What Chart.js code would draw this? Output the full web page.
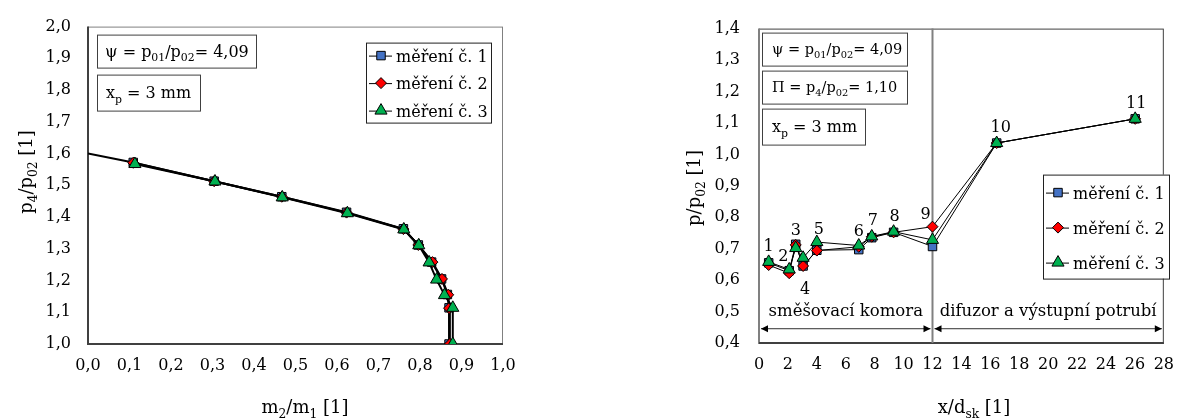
<!DOCTYPE html>
<html>
<head>
<meta charset="utf-8">
<script src="https://cdn.jsdelivr.net/npm/chart.js@4.4.0/dist/chart.umd.min.js"></script>
<style>
  body { margin: 0; background: #fff; }
  #wrapL { position: absolute; left: 0; top: 0; width: 580px; height: 419px; }
  #wrapR { position: absolute; left: 600px; top: 0; width: 586px; height: 419px; }
</style>
</head>
<body>
<div id="wrapL"><canvas id="chartL"></canvas></div>
<div id="wrapR"><canvas id="chartR"></canvas></div>
<script>
const FONT = '"DejaVu Serif", serif';

// ---- left chart data: p4/p02 vs m2/m1
const seriesNames = ["měření č. 1", "měření č. 2", "měření č. 3"];
const massRatio1 = [0.109, 0.304, 0.467, 0.623, 0.760, 0.796, 0.828, 0.852, 0.866, 0.870, 0.870];
const pRatio1    = [1.572, 1.513, 1.464, 1.415, 1.363, 1.312, 1.258, 1.205, 1.156, 1.114, 1.000];
const massRatio2 = [0.109, 0.304, 0.467, 0.623, 0.760, 0.796, 0.830, 0.853, 0.868, 0.870, 0.872];
const pRatio2    = [1.571, 1.513, 1.464, 1.414, 1.362, 1.312, 1.258, 1.205, 1.155, 1.113, 1.000];
const massRatio3 = [0.113, 0.306, 0.468, 0.625, 0.761, 0.797, 0.822, 0.840, 0.859, 0.879, 0.879];
const pRatio3    = [1.567, 1.512, 1.462, 1.412, 1.361, 1.311, 1.257, 1.203, 1.154, 1.114, 1.000];
const extrapX = [0.0, 0.109];
const extrapY = [1.600, 1.572];
const leftXTicks = [0, 0.1, 0.2, 0.3, 0.4, 0.5, 0.6, 0.7, 0.8, 0.9, 1.0];
const leftYTicks = [1.0, 1.1, 1.2, 1.3, 1.4, 1.5, 1.6, 1.7, 1.8, 1.9, 2.0];

// ---- right chart data: p/p02 vs x/dsk
const pointNumbers = ["1", "2", "3", "4", "5", "6", "7", "8", "9", "10", "11"];
const xPos = [0.67, 2.09, 2.54, 3.05, 4.0, 6.9, 7.8, 9.31, 12.0, 16.44, 26.02];
const pLocal1 = [0.655, 0.630, 0.714, 0.645, 0.695, 0.697, 0.735, 0.752, 0.707, 1.036, 1.113];
const pLocal2 = [0.648, 0.622, 0.712, 0.645, 0.694, 0.706, 0.738, 0.752, 0.770, 1.036, 1.113];
const pLocal3 = [0.658, 0.634, 0.702, 0.671, 0.721, 0.710, 0.739, 0.754, 0.728, 1.036, 1.113];
const rightXTicks = [0, 2, 4, 6, 8, 10, 12, 14, 16, 18, 20, 22, 24, 26, 28];
const rightYTicks = [0.4, 0.5, 0.6, 0.7, 0.8, 0.9, 1.0, 1.1, 1.2, 1.3, 1.4];
const regionNames = ["směšovací komora", "difuzor a výstupní potrubí"];
const regionBounds = [0, 12, 28];

// label offsets in px for point numbers (dx, dy from topmost marker)
const numberOffsets = [[0,-17],[-6,-14],[0,-15],[2,30],[2,-14],[0,-16],[1,-17],[1,-17],[-7,-14],[4,-17],[1,-17]];

const markerStyles = [
  { pointStyle: 'rect', radius: 6, color: '#4472C4' },
  { pointStyle: 'rectRot', radius: 5.5, color: '#FF0000' },
  { pointStyle: 'triangle', radius: 7, color: '#00B050' }
];

function zip(xs, ys) { return xs.map((x, i) => ({ x: x, y: ys[i] })); }

function richText(ctx, parts, x, y, size, align) {
  const sub = size * 0.68;
  let w = 0;
  parts.forEach(p => {
    ctx.font = (p[1] ? sub : size) + 'px ' + FONT;
    w += ctx.measureText(p[0]).width;
  });
  let cx = align === 'center' ? x - w / 2 : x;
  ctx.textBaseline = 'alphabetic';
  ctx.textAlign = 'left';
  ctx.fillStyle = '#000';
  parts.forEach(p => {
    ctx.font = (p[1] ? sub : size) + 'px ' + FONT;
    ctx.fillText(p[0], cx, p[1] ? y + size * 0.28 : y);
    cx += ctx.measureText(p[0]).width;
  });
}

function drawMarker(ctx, st, x, y) {
  ctx.save();
  ctx.fillStyle = st.color;
  ctx.strokeStyle = '#000';
  ctx.lineWidth = 1;
  ctx.beginPath();
  const r = st.radius;
  if (st.pointStyle === 'rect') {
    const s = r * Math.SQRT1_2;
    ctx.rect(x - s, y - s, 2 * s, 2 * s);
  } else if (st.pointStyle === 'rectRot') {
    ctx.moveTo(x - r, y); ctx.lineTo(x, y - r); ctx.lineTo(x + r, y); ctx.lineTo(x, y + r); ctx.closePath();
  } else {
    ctx.moveTo(x, y - r);
    ctx.lineTo(x + r * Math.sin(Math.PI * 2 / 3), y - r * Math.cos(Math.PI * 2 / 3));
    ctx.lineTo(x + r * Math.sin(Math.PI * 4 / 3), y - r * Math.cos(Math.PI * 4 / 3));
    ctx.closePath();
  }
  ctx.fill(); ctx.stroke();
  ctx.restore();
}

const extras = {
  id: 'extras',
  beforeDatasetsDraw(chart, args, opts) {
    const ctx = chart.ctx, a = chart.chartArea;
    ctx.save();
    ctx.strokeStyle = opts.frameColor;
    ctx.lineWidth = 1;
    ctx.strokeRect(a.left + 0.5, a.top + 0.5, a.right - a.left - 1, a.bottom - a.top);
    ctx.lineWidth = 2;
    ctx.strokeStyle = opts.leftAxisColor;
    ctx.beginPath(); ctx.moveTo(a.left, a.top); ctx.lineTo(a.left, a.bottom + 1); ctx.stroke();
    ctx.strokeStyle = '#404040';
    ctx.beginPath(); ctx.moveTo(a.left, a.bottom); ctx.lineTo(a.right, a.bottom); ctx.stroke();
    if (opts.regions) {
      const xs = chart.scales.x, ys = chart.scales.y;
      const yA = ys.getPixelForValue(opts.arrowY);
      const yT = ys.getPixelForValue(opts.textY);
      ctx.strokeStyle = '#808080';
      ctx.lineWidth = 2;
      const xm = xs.getPixelForValue(regionBounds[1]);
      ctx.beginPath(); ctx.moveTo(xm, a.top); ctx.lineTo(xm, a.bottom); ctx.stroke();
      regionNames.forEach((name, i) => {
        const x1 = xs.getPixelForValue(regionBounds[i]) + 2;
        const x2 = xs.getPixelForValue(regionBounds[i + 1]) - 2;
        ctx.strokeStyle = '#303030';
        ctx.lineWidth = 1;
        ctx.beginPath(); ctx.moveTo(x1, yA + 0.5); ctx.lineTo(x2, yA + 0.5); ctx.stroke();
        ctx.fillStyle = '#000';
        ctx.beginPath(); ctx.moveTo(x1, yA + 0.5); ctx.lineTo(x1 + 7, yA - 3); ctx.lineTo(x1 + 7, yA + 4); ctx.closePath(); ctx.fill();
        ctx.beginPath(); ctx.moveTo(x2, yA + 0.5); ctx.lineTo(x2 - 7, yA - 3); ctx.lineTo(x2 - 7, yA + 4); ctx.closePath(); ctx.fill();
        richText(ctx, [[name, '']], (x1 + x2) / 2, yT, 16.5, 'center');
      });
    }
    ctx.restore();
  },
  afterDatasetsDraw(chart, args, opts) {
    const ctx = chart.ctx, a = chart.chartArea;
    ctx.save();
    // info boxes
    opts.boxes.forEach(b => {
      ctx.strokeStyle = '#404040';
      ctx.lineWidth = 1;
      ctx.fillStyle = '#fff';
      ctx.fillRect(a.left + b.x, a.top + b.y, b.w, b.h);
      ctx.strokeRect(a.left + b.x + 0.5, a.top + b.y + 0.5, b.w, b.h);
      richText(ctx, b.parts, a.left + b.x + b.tx, a.top + b.y + b.h / 2 + b.size * 0.35, b.size, 'left');
    });
    // legend
    const L = opts.legend;
    const lx = a.left + L.x, ly = a.top + L.y;
    ctx.fillStyle = '#fff';
    ctx.fillRect(lx, ly, L.w, L.h);
    ctx.strokeStyle = '#202020';
    ctx.lineWidth = 1;
    ctx.strokeRect(lx + 0.5, ly + 0.5, L.w, L.h);
    seriesNames.forEach((name, i) => {
      const cy = ly + L.first + i * L.step;
      ctx.strokeStyle = '#000';
      ctx.lineWidth = 1;
      ctx.beginPath(); ctx.moveTo(lx + 3, cy + 0.5); ctx.lineTo(lx + 26, cy + 0.5); ctx.stroke();
      drawMarker(ctx, markerStyles[i], lx + 15, cy);
      richText(ctx, [[name, '']], lx + 30, cy + 6, 16, 'left');
    });
    // point numbers
    if (opts.numbers) {
      const xs = chart.scales.x, ys = chart.scales.y;
      pointNumbers.forEach((t, i) => {
        const top = Math.max(pLocal1[i], pLocal2[i], pLocal3[i]);
        const px = xs.getPixelForValue(xPos[i]) + numberOffsets[i][0];
        const py = ys.getPixelForValue(top) + numberOffsets[i][1];
        richText(ctx, [[t, '']], px, py + 6, 16, 'center');
      });
    }
    ctx.restore();
  },
  afterDraw(chart, args, opts) {
    const ctx = chart.ctx;
    ctx.save();
    richText(ctx, opts.xTitle.parts, opts.xTitle.x, opts.xTitle.y, 18, 'center');
    ctx.translate(opts.yTitle.x, opts.yTitle.y);
    ctx.rotate(-Math.PI / 2);
    richText(ctx, opts.yTitle.parts, 0, 0, 18, 'center');
    ctx.restore();
  }
};

function makeDatasets(xArr, yArr, lineWidth) {
  return xArr.map((xs, i) => ({
    label: seriesNames[i],
    data: zip(xs, yArr[i]),
    order: 3 - i,
    showLine: true,
    borderColor: '#000',
    borderWidth: lineWidth,
    pointStyle: markerStyles[i].pointStyle,
    pointRadius: markerStyles[i].radius,
    pointBackgroundColor: markerStyles[i].color,
    pointBorderColor: '#000',
    pointBorderWidth: 1,
    tension: 0
  }));
}

function axis(min, max, ticks, fmt, fitKey, fitVal, pad) {
  return {
    type: 'linear', min: min, max: max,
    grid: { display: false, drawTicks: false },
    border: { display: false },
    afterBuildTicks: s => { s.ticks = ticks.map(v => ({ value: v })); },
    afterFit: s => { s[fitKey] = fitVal; },
    ticks: { color: '#000', padding: pad, autoSkip: false, maxRotation: 0,
             font: { family: FONT, size: 16 }, callback: fmt }
  };
}

const comma = v => v.toFixed(1).replace('.', ',');

const leftData = makeDatasets([massRatio1, massRatio2, massRatio3], [pRatio1, pRatio2, pRatio3], 2);
leftData.unshift({
  label: 'extrap', data: zip(extrapX, extrapY), showLine: true, order: 4,
  borderColor: '#000', borderWidth: 2, pointRadius: 0
});

new Chart(document.getElementById('chartL'), {
  type: 'scatter',
  data: { datasets: leftData },
  options: {
    responsive: true, maintainAspectRatio: false, animation: false,
    layout: { padding: { left: 0, top: 21, right: 77, bottom: 0 } },
    scales: {
      x: axis(0, 1, leftXTicks, comma, 'height', 75, 12),
      y: axis(1, 2, leftYTicks, comma, 'width', 88, 17)
    },
    plugins: {
      legend: { display: false }, tooltip: { enabled: false },
      extras: {
        frameColor: '#808080', leftAxisColor: '#404040',
        boxes: [
          { x: 9, y: 8, w: 159, h: 33, tx: 8, size: 16,
            parts: [['ψ = p', ''], ['01', 's'], ['/p', ''], ['02', 's'], ['= 4,09', '']] },
          { x: 9, y: 48, w: 103, h: 36, tx: 9, size: 16,
            parts: [['x', ''], ['p', 's'], [' = 3 mm', '']] }
        ],
        legend: { x: 278, y: 16, w: 125, h: 80, first: 13, step: 27.5 },
        xTitle: { x: 305, y: 413, parts: [['m', ''], ['2', 's'], ['/m', ''], ['1', 's'], [' [1]', '']] },
        yTitle: { x: 32, y: 172, parts: [['p', ''], ['4', 's'], ['/p', ''], ['02', 's'], [' [1]', '']] }
      }
    }
  },
  plugins: [extras]
});

new Chart(document.getElementById('chartR'), {
  type: 'scatter',
  data: { datasets: makeDatasets([xPos, xPos, xPos], [pLocal1, pLocal2, pLocal3], 1) },
  options: {
    responsive: true, maintainAspectRatio: false, animation: false,
    layout: { padding: { left: 0, top: 24, right: 11, bottom: 0 } },
    scales: {
      x: axis(0, 28, rightXTicks, v => String(v), 'height', 76, 12),
      y: axis(0.4, 1.4, rightYTicks, comma, 'width', 159, 19)
    },
    plugins: {
      legend: { display: false }, tooltip: { enabled: false },
      extras: {
        frameColor: '#404040', leftAxisColor: '#808080',
        regions: true, arrowY: 0.447, textY: 0.485, numbers: true,
        boxes: [
          { x: 3, y: 4, w: 145, h: 33, tx: 10, size: 14.5,
            parts: [['ψ = p', ''], ['01', 's'], ['/p', ''], ['02', 's'], ['= 4,09', '']] },
          { x: 3, y: 42, w: 145, h: 33, tx: 10, size: 14.5,
            parts: [['Π = p', ''], ['4', 's'], ['/p', ''], ['02', 's'], ['= 1,10', '']] },
          { x: 3, y: 80, w: 103, h: 36, tx: 10, size: 16,
            parts: [['x', ''], ['p', 's'], [' = 3 mm', '']] }
        ],
        legend: { x: 284, y: 146, w: 126, h: 104, first: 18, step: 35 },
        xTitle: { x: 374, y: 413, parts: [['x/d', ''], ['sk', 's'], [' [1]', '']] },
        yTitle: { x: 100, y: 188, parts: [['p/p', ''], ['02', 's'], [' [1]', '']] }
      }
    }
  },
  plugins: [extras]
});
</script>
</body>
</html>
